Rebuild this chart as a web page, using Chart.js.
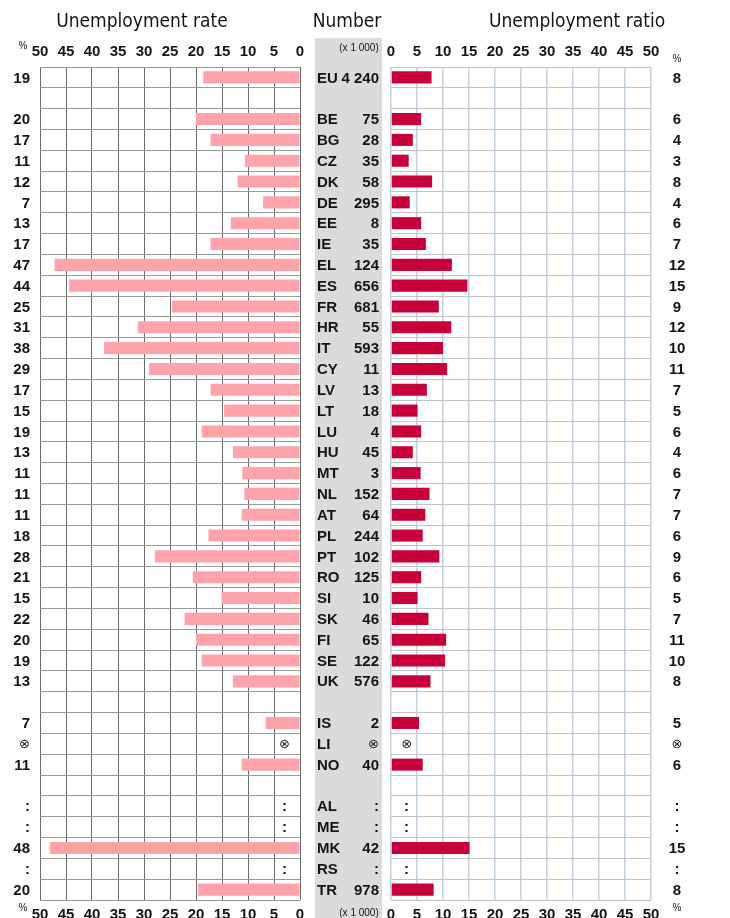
<!DOCTYPE html>
<html>
<head>
<meta charset="utf-8">
<script src="https://cdn.jsdelivr.net/npm/chart.js@4/dist/chart.umd.min.js"></script>
<style>
  html, body { margin: 0; padding: 0; background: #fff; }
  body { position: relative; width: 730px; height: 918px; overflow: hidden; }
  canvas { position: absolute; top: 0; }
  #leftChart { left: 0; }
  #rightChart { left: 379px; }
</style>
</head>
<body>
<canvas id="leftChart" width="386" height="918"></canvas>
<canvas id="rightChart" width="351" height="918"></canvas>
<script>
// rows, top to bottom ('' = spacer row)
const codes = ['EU', '', 'BE', 'BG', 'CZ', 'DK', 'DE', 'EE', 'IE', 'EL', 'ES', 'FR', 'HR', 'IT', 'CY',
  'LV', 'LT', 'LU', 'HU', 'MT', 'NL', 'AT', 'PL', 'PT', 'RO', 'SI', 'SK', 'FI', 'SE', 'UK', '',
  'IS', 'LI', 'NO', '', 'AL', 'ME', 'MK', 'RS', 'TR'];

// unemployment rate (%), bars
const rateValues = [18.6, null, 20.0, 17.2, 10.6, 12.0, 7.1, 13.3, 17.2, 47.2, 44.4, 24.6, 31.2, 37.7, 29.0,
  17.2, 14.6, 18.9, 12.9, 11.1, 10.7, 11.2, 17.6, 27.9, 20.6, 15.1, 22.2, 20.0, 18.9, 12.9, null,
  6.6, null, 11.2, null, null, null, 48.1, null, 19.6];
const rateLabels = ['19', '', '20', '17', '11', '12', '7', '13', '17', '47', '44', '25', '31', '38', '29',
  '17', '15', '19', '13', '11', '11', '11', '18', '28', '21', '15', '22', '20', '19', '13', '',
  '7', '⊗', '11', '', ':', ':', '48', ':', '20'];

// number unemployed (x 1 000)
const numberLabels = ['4 240', '', '75', '28', '35', '58', '295', '8', '35', '124', '656', '681', '55', '593', '11',
  '13', '18', '4', '45', '3', '152', '64', '244', '102', '125', '10', '46', '65', '122', '576', '',
  '2', '⊗', '40', '', ':', ':', '42', ':', '978'];

// unemployment ratio (%), bars
const ratioValues = [7.8, null, 5.8, 4.2, 3.4, 7.9, 3.6, 5.8, 6.7, 11.7, 14.7, 9.2, 11.6, 10.0, 10.8,
  6.9, 5.1, 5.8, 4.2, 5.7, 7.4, 6.6, 6.1, 9.3, 5.8, 5.1, 7.2, 10.6, 10.4, 7.6, null,
  5.4, null, 6.1, null, null, null, 15.1, null, 8.2];
const ratioLabels = ['8', '', '6', '4', '3', '8', '4', '6', '7', '12', '15', '9', '12', '10', '11',
  '7', '5', '6', '4', '6', '7', '7', '6', '9', '6', '5', '7', '11', '10', '8', '',
  '5', '⊗', '6', '', ':', ':', '15', ':', '8'];

const NARROW = "'Liberation Sans Narrow', 'Liberation Sans', Arial, sans-serif";
const boldFont = 'bold 15px ' + NARROW;
const smallFont = '10px ' + NARROW;
const titleFont = "19px 'DejaVu Sans Condensed', 'DejaVu Sans', sans-serif";
const symFont = "13px 'DejaVu Sans', sans-serif";
const tickFont = { family: NARROW, size: 15, weight: 'bold' };
const textColor = '#151515';
const RIGHT_OFF = 379; // page x of the right canvas

function putText(ctx, txt, x, y, align) {
  if (!txt) return;
  ctx.textAlign = align;
  ctx.font = txt === '⊗' ? symFont : boldFont;
  ctx.fillText(txt, x, y);
}

// marker drawn inside the plot for missing / confidential rows
function putMarker(ctx, txt, x, y) {
  if (txt !== ':' && txt !== '⊗') return;
  putText(ctx, txt, x, y, 'center');
}

const leftText = {
  id: 'leftText',
  beforeDraw(chart) {
    const ctx = chart.ctx;
    ctx.save();
    ctx.fillStyle = '#dcdbdc';
    ctx.fillRect(315, 38, 67, chart.height - 38);
    ctx.restore();
  },
  afterDraw(chart) {
    const ctx = chart.ctx;
    const ys = chart.scales.y, xs = chart.scales.x;
    ctx.save();
    ctx.fillStyle = textColor;
    ctx.textBaseline = 'middle';
    ctx.font = titleFont;
    ctx.textAlign = 'center';
    ctx.fillText('Unemployment rate', 142, 22);
    ctx.fillText('Number', 347, 22);

    ctx.font = smallFont;
    ctx.fillText('%', 23, 46);
    ctx.fillText('%', 23, 908);
    ctx.fillText('(x 1 000)', 359, 48);
    ctx.fillText('(x 1 000)', 359, 913);

    const markX = xs.getPixelForValue(3);
    codes.forEach((c, i) => {
      const py = ys.getPixelForValue(i) + 1;
      putText(ctx, rateLabels[i], 30, py, 'right');
      putMarker(ctx, rateLabels[i], markX, py);
      putText(ctx, c, 317, py, 'left');
      putText(ctx, numberLabels[i], 379, py, 'right');
    });
    ctx.restore();
  }
};

const rightText = {
  id: 'rightText',
  afterDraw(chart) {
    const ctx = chart.ctx;
    const ys = chart.scales.y, xs = chart.scales.x;
    ctx.save();
    ctx.fillStyle = textColor;
    ctx.textBaseline = 'middle';
    ctx.font = titleFont;
    ctx.textAlign = 'center';
    ctx.fillText('Unemployment ratio', 577 - RIGHT_OFF, 22);

    ctx.font = smallFont;
    ctx.fillText('%', 677 - RIGHT_OFF, 59);
    ctx.fillText('%', 677 - RIGHT_OFF, 908);

    const markX = xs.getPixelForValue(3);
    codes.forEach((c, i) => {
      const py = ys.getPixelForValue(i) + 1;
      putText(ctx, ratioLabels[i], 677 - RIGHT_OFF, py, 'center');
      putMarker(ctx, ratioLabels[i], markX, py);
    });
    ctx.restore();
  }
};

function makeChart(id, values, color, reverse, padding, vGrid, hGrid, plugin) {
  const xTicks = { stepSize: 5, padding: 6, font: tickFont, color: textColor, maxRotation: 0, autoSkip: false };
  return new Chart(document.getElementById(id), {
    type: 'bar',
    data: {
      labels: codes,
      datasets: [{
        data: values,
        backgroundColor: color,
        barPercentage: 0.58,
        categoryPercentage: 1,
        xAxisID: 'x'
      }]
    },
    options: {
      indexAxis: 'y',
      responsive: false,
      animation: false,
      layout: { padding: padding },
      plugins: { legend: { display: false }, tooltip: { enabled: false } },
      scales: {
        x: {
          type: 'linear', position: 'top', reverse: reverse, min: 0, max: 50,
          ticks: xTicks,
          grid: { color: vGrid.color, lineWidth: vGrid.width, drawTicks: false },
          border: { display: false },
          afterFit: s => { s.height = 67; }
        },
        x2: {
          type: 'linear', position: 'bottom', reverse: reverse, min: 0, max: 50,
          ticks: xTicks,
          grid: { display: false, drawTicks: false },
          border: { display: false },
          afterFit: s => { s.height = 18; }
        },
        y: {
          ticks: { display: false },
          grid: { color: hGrid, lineWidth: 1, drawTicks: false, offset: true },
          border: { display: false },
          afterFit: s => { s.width = 0; }
        }
      }
    },
    plugins: [plugin]
  });
}

makeChart('leftChart', rateValues, '#ffa3aa', true,
  { left: 40, right: 86, top: 0, bottom: 0 },
  { color: '#6a6a6a', width: 1 }, '#9a9a9a', leftText);

makeChart('rightChart', ratioValues, '#c8003a', false,
  { left: 12, right: 79, top: 0, bottom: 0 },
  { color: '#c3d0e0', width: 1.5 }, '#c4c4c4', rightText);
</script>
</body>
</html>
